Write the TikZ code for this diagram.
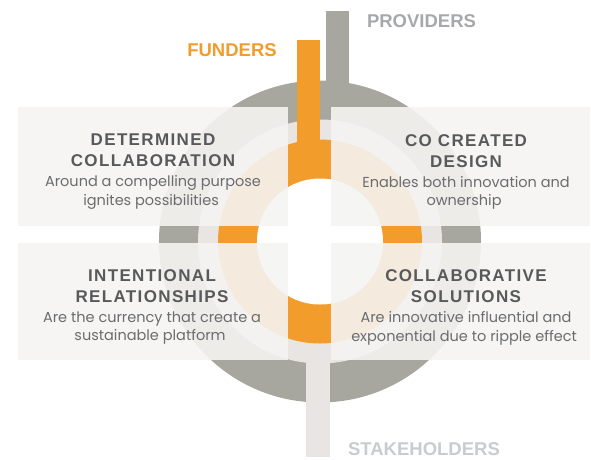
\documentclass[tikz,border=0pt]{standalone}
\usepackage{fontspec}
\setmainfont{Poppins}
\newfontfamily\headfont[LetterSpace=8]{Liberation Sans}
\newfontfamily\tagfont{Liberation Sans}
\usetikzlibrary{positioning}

\definecolor{ringgray}{HTML}{A7A79F}
\definecolor{ringlight}{HTML}{E9E5E3}
\definecolor{fundorange}{HTML}{F29C2B}
\definecolor{panel}{HTML}{F5F4F2}
\definecolor{headgray}{HTML}{58595B}
\definecolor{bodygray}{HTML}{6B6C6F}
\definecolor{provgray}{HTML}{A6A8AA}
\definecolor{stakegray}{HTML}{C8CBD0}

\newcommand{\bodyline}{\rmfamily\mdseries\fontsize{14.5}{17}\selectfont\color{bodygray}}

\begin{document}
\begin{tikzpicture}[
  x=1pt, y=-1pt,
  quad/.style={fill=panel, fill opacity=.9},
  quadtext/.style={
    anchor=north, align=center, inner sep=0pt,
    text=headgray, font=\headfont\bfseries\fontsize{17}{21}\selectfont
  },
  tag/.style={anchor=base, inner sep=0pt, font=\tagfont\bfseries\fontsize{18.5}{20}\selectfont}
]
\useasboundingbox (0,0) rectangle (591,459);

% Rings
\coordinate (c) at (320,241.5);
\fill[ringgray] (c) circle (161pt);
\fill[ringlight] (c) circle (122pt);

% Bars
\fill[fundorange] (297,40) rectangle (320,160);
\fill[ringgray] (326,11) rectangle (349,100);
\fill[ringlight] (306,320) rectangle (330,457);

\fill[fundorange] (c) circle (102pt);
\fill[white] (c) circle (63pt);

% Panels
\fill[quad] (18,107) rectangle (288,226);
\fill[quad] (331,107) rectangle (590,226);
\fill[quad] (18,243) rectangle (288,360);
\fill[quad] (331,243) rectangle (590,360);

% Panel texts
\node[quadtext] (dc) at (153,134) {
  DETERMINED\\
  COLLABORATION\\[-1pt]
  \bodyline Around a compelling purpose\\[-2.5pt]
  \bodyline ignites possibilities
};
\node[quadtext] (cd) at (466,134) {
  CO CREATED\\
  DESIGN\\[-1pt]
  \bodyline Enables both innovation and\\[-2.5pt]
  \bodyline ownership
};
\node[quadtext] (ir) at (152,269) {
  INTENTIONAL\\
  RELATIONSHIPS\\[-1pt]
  \bodyline Are the currency that create a\\[-2.5pt]
  \bodyline sustainable platform
};
\node[quadtext] (cs) at (466,269.5) {
  COLLABORATIVE\\
  SOLUTIONS\\[-1pt]
  \bodyline Are innovative influential and\\[-2.5pt]
  \bodyline exponential due to ripple effect
};

% Labels
\node[tag, text=fundorange] (funders) at (232,56) {FUNDERS};
\node[tag, text=provgray] (providers) at (421.5,27) {PROVIDERS};
\node[tag, text=stakegray] (stakeholders) at (424,455.5) {STAKEHOLDERS};

\end{tikzpicture}
\end{document}
